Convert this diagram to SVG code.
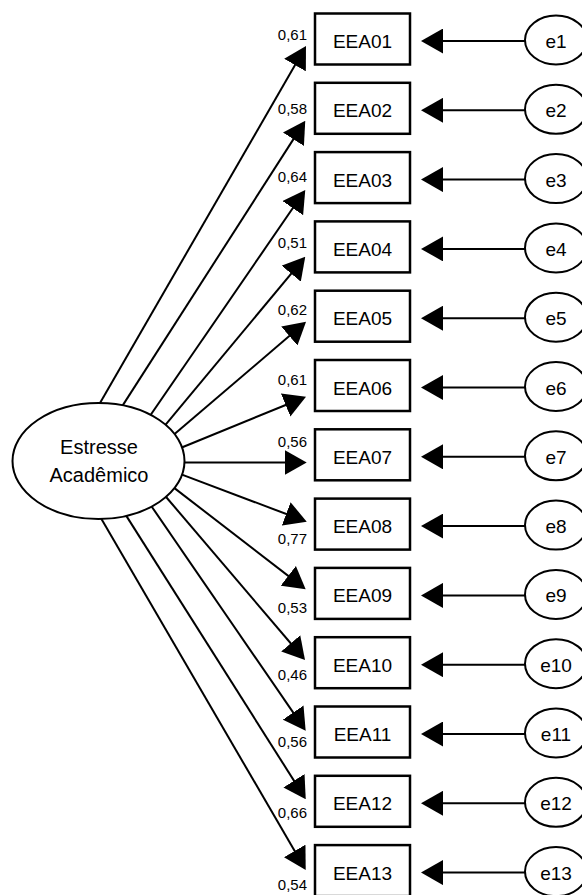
<svg xmlns="http://www.w3.org/2000/svg" width="582" height="895" viewBox="0 0 582 895">
<defs>
<style>
.ln{stroke:#000;stroke-width:2;fill:none;marker-end:url(#ah)}
.box{fill:#fff;stroke:#000;stroke-width:2.5}
.el{fill:#fff;stroke:#000;stroke-width:2}
.t{font-family:"Liberation Sans",Arial,sans-serif;fill:#000}
.bt{font-size:19px;text-anchor:middle}
.lt{font-size:20px;text-anchor:middle}
.wt{font-size:15px;text-anchor:end}
</style>
<marker id="ah" markerUnits="userSpaceOnUse" markerWidth="22" markerHeight="25" refX="18" refY="12.5" orient="auto" viewBox="0 0 22 25">
<path d="M0,0 L22,12.5 L0,25 Z" fill="#000"/>
</marker>
</defs>
<rect width="582" height="895" fill="#fff"/>
<g id="connectors">
<line class="ln" x1="98" y1="406.5" x2="304" y2="49.5"/>
<line class="ln" x1="120.8" y1="408.4" x2="303.1" y2="124.1"/>
<line class="ln" x1="149.7" y1="416.3" x2="303" y2="193.3"/>
<line class="ln" x1="164.4" y1="426.1" x2="302.7" y2="259.8"/>
<line class="ln" x1="174" y1="434.6" x2="303" y2="324.3"/>
<line class="ln" x1="179.3" y1="448.5" x2="302.3" y2="398.2"/>
<line class="ln" x1="181" y1="462.5" x2="302.7" y2="462.5"/>
<line class="ln" x1="179.3" y1="473.6" x2="303" y2="520.3"/>
<line class="ln" x1="173.8" y1="487.6" x2="302.5" y2="586.9"/>
<line class="ln" x1="164.4" y1="495" x2="302.4" y2="657"/>
<line class="ln" x1="149.7" y1="503.7" x2="303.4" y2="727.4"/>
<line class="ln" x1="124.9" y1="513.6" x2="303.6" y2="795.9"/>
<line class="ln" x1="100" y1="516.5" x2="303.7" y2="866.5"/>
<line class="ln" x1="527" y1="41" x2="425" y2="41"/>
<line class="ln" x1="527" y1="110.3" x2="425" y2="110.3"/>
<line class="ln" x1="527" y1="179.6" x2="425" y2="179.6"/>
<line class="ln" x1="527" y1="248.9" x2="425" y2="248.9"/>
<line class="ln" x1="527" y1="318.2" x2="425" y2="318.2"/>
<line class="ln" x1="527" y1="387.5" x2="425" y2="387.5"/>
<line class="ln" x1="527" y1="456.8" x2="425" y2="456.8"/>
<line class="ln" x1="527" y1="526.1" x2="425" y2="526.1"/>
<line class="ln" x1="527" y1="595.4" x2="425" y2="595.4"/>
<line class="ln" x1="527" y1="664.7" x2="425" y2="664.7"/>
<line class="ln" x1="527" y1="734" x2="425" y2="734"/>
<line class="ln" x1="527" y1="803.3" x2="425" y2="803.3"/>
<line class="ln" x1="527" y1="872.6" x2="425" y2="872.6"/>
</g>
<g id="loadings" class="t wt">
<text x="307" y="40">0,61</text>
<text x="307" y="114">0,58</text>
<text x="307" y="182">0,64</text>
<text x="307" y="248">0,51</text>
<text x="307" y="315">0,62</text>
<text x="307" y="385">0,61</text>
<text x="307" y="447">0,56</text>
<text x="307" y="544">0,77</text>
<text x="307" y="613">0,53</text>
<text x="307" y="680">0,46</text>
<text x="307" y="747">0,56</text>
<text x="307" y="818">0,66</text>
<text x="307" y="890">0,54</text>
</g>
<g id="latent">
<ellipse class="el" cx="98.5" cy="461" rx="86" ry="58"/>
<text class="t lt" x="99" y="454">Estresse</text>
<text class="t lt" x="99" y="481.7">Acadêmico</text>
</g>
<g id="EEA01"><rect class="box" x="315" y="13.5" width="95" height="51"/><text class="t bt" x="362.5" y="48">EEA01</text></g>
<g id="EEA02"><rect class="box" x="315" y="82.8" width="95" height="51"/><text class="t bt" x="362.5" y="117.3">EEA02</text></g>
<g id="EEA03"><rect class="box" x="315" y="152.1" width="95" height="51"/><text class="t bt" x="362.5" y="186.6">EEA03</text></g>
<g id="EEA04"><rect class="box" x="315" y="221.4" width="95" height="51"/><text class="t bt" x="362.5" y="255.9">EEA04</text></g>
<g id="EEA05"><rect class="box" x="315" y="290.7" width="95" height="51"/><text class="t bt" x="362.5" y="325.2">EEA05</text></g>
<g id="EEA06"><rect class="box" x="315" y="360" width="95" height="51"/><text class="t bt" x="362.5" y="394.5">EEA06</text></g>
<g id="EEA07"><rect class="box" x="315" y="429.3" width="95" height="51"/><text class="t bt" x="362.5" y="463.8">EEA07</text></g>
<g id="EEA08"><rect class="box" x="315" y="498.6" width="95" height="51"/><text class="t bt" x="362.5" y="533.1">EEA08</text></g>
<g id="EEA09"><rect class="box" x="315" y="567.9" width="95" height="51"/><text class="t bt" x="362.5" y="602.4">EEA09</text></g>
<g id="EEA10"><rect class="box" x="315" y="637.2" width="95" height="51"/><text class="t bt" x="362.5" y="671.7">EEA10</text></g>
<g id="EEA11"><rect class="box" x="315" y="706.5" width="95" height="51"/><text class="t bt" x="362.5" y="741">EEA11</text></g>
<g id="EEA12"><rect class="box" x="315" y="775.8" width="95" height="51"/><text class="t bt" x="362.5" y="810.3">EEA12</text></g>
<g id="EEA13"><rect class="box" x="315" y="845.1" width="95" height="51"/><text class="t bt" x="362.5" y="879.6">EEA13</text></g>
<g id="e1"><ellipse class="el" cx="556" cy="40" rx="31" ry="24.5"/><text class="t bt" x="556" y="48">e1</text></g>
<g id="e2"><ellipse class="el" cx="556" cy="109.3" rx="31" ry="24.5"/><text class="t bt" x="556" y="117.3">e2</text></g>
<g id="e3"><ellipse class="el" cx="556" cy="178.6" rx="31" ry="24.5"/><text class="t bt" x="556" y="186.6">e3</text></g>
<g id="e4"><ellipse class="el" cx="556" cy="247.9" rx="31" ry="24.5"/><text class="t bt" x="556" y="255.9">e4</text></g>
<g id="e5"><ellipse class="el" cx="556" cy="317.2" rx="31" ry="24.5"/><text class="t bt" x="556" y="325.2">e5</text></g>
<g id="e6"><ellipse class="el" cx="556" cy="386.5" rx="31" ry="24.5"/><text class="t bt" x="556" y="394.5">e6</text></g>
<g id="e7"><ellipse class="el" cx="556" cy="455.8" rx="31" ry="24.5"/><text class="t bt" x="556" y="463.8">e7</text></g>
<g id="e8"><ellipse class="el" cx="556" cy="525.1" rx="31" ry="24.5"/><text class="t bt" x="556" y="533.1">e8</text></g>
<g id="e9"><ellipse class="el" cx="556" cy="594.4" rx="31" ry="24.5"/><text class="t bt" x="556" y="602.4">e9</text></g>
<g id="e10"><ellipse class="el" cx="556" cy="663.7" rx="31" ry="24.5"/><text class="t bt" x="556" y="671.7">e10</text></g>
<g id="e11"><ellipse class="el" cx="556" cy="733" rx="31" ry="24.5"/><text class="t bt" x="556" y="741">e11</text></g>
<g id="e12"><ellipse class="el" cx="556" cy="802.3" rx="31" ry="24.5"/><text class="t bt" x="556" y="810.3">e12</text></g>
<g id="e13"><ellipse class="el" cx="556" cy="871.6" rx="31" ry="24.5"/><text class="t bt" x="556" y="879.6">e13</text></g>
</svg>
